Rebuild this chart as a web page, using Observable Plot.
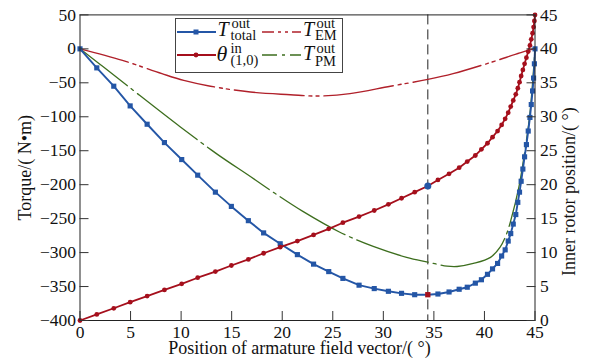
<!DOCTYPE html>
<html><head><meta charset="utf-8">
<script src="https://cdn.jsdelivr.net/npm/d3@7"></script>
<script src="https://cdn.jsdelivr.net/npm/@observablehq/plot@0.6"></script>
<style>
body{margin:0;background:#fff;}
#wrap{position:relative;width:590px;height:363px;font-family:"Liberation Serif","Times New Roman",serif;color:#111;}
#wrap > svg{position:absolute;left:0;top:0;}
#legend{position:absolute;left:175px;top:18px;width:166px;height:53px;border:1.5px solid #444;background:#fff;}
#legend span{position:absolute;white-space:nowrap;line-height:0.7;}
#legend .big{font-size:20px;font-style:italic;}
#legend .theta{font-size:22px;font-style:italic;}
#legend .small{font-size:14.5px;}
#legend svg{position:absolute;overflow:visible;}
</style></head><body>
<div id="wrap">
  <div id="legend">
    <svg style="left:0;top:6.5px" width="41" height="12"><line x1="1" y1="6" x2="40" y2="6" stroke="#2456a6" stroke-width="1.8"/><rect x="17.5" y="3.5" width="5" height="5" fill="#2456a6"/></svg>
    <span class="big" style="left:41.5px;top:2.95px">T</span>
    <span class="small" style="left:55.5px;top:-1.2px">out</span>
    <span class="small" style="left:54.5px;top:10.5px">total</span>

    <svg style="left:85px;top:6.5px" width="41" height="12"><line x1="1" y1="6" x2="40" y2="6" stroke="#b0202a" stroke-width="1.4" stroke-dasharray="12,4,3,4,3,4"/></svg>
    <span class="big" style="left:127px;top:2.95px">T</span>
    <span class="small" style="left:140.5px;top:-1.2px">out</span>
    <span class="small" style="left:139px;top:10.5px">EM</span>

    <svg style="left:0;top:30px" width="41" height="12"><line x1="1" y1="6" x2="40" y2="6" stroke="#a50f1c" stroke-width="1.8"/><circle cx="20" cy="6" r="2.4" fill="#a50f1c"/></svg>
    <span class="theta" style="left:40.5px;top:27.4px">θ</span>
    <span class="small" style="left:54.5px;top:23.8px">in</span>
    <span class="small" style="left:54.5px;top:36px">(1,0)</span>

    <svg style="left:85px;top:30px" width="41" height="12"><line x1="1" y1="6" x2="40" y2="6" stroke="#3d6e1e" stroke-width="1.4" stroke-dasharray="15,5,3,5"/></svg>
    <span class="big" style="left:127px;top:26.85px">T</span>
    <span class="small" style="left:140.5px;top:23.5px">out</span>
    <span class="small" style="left:139px;top:37.2px">PM</span>
  </div>
</div>
<script>
// Armature field vector position (deg) for the sampled points
const xPos = [0,1.66,3.34,4.96,6.64,8.35,10.06,11.64,13.39,14.97,16.65,18.16,19.8,21.5,23.1,24.6,26.0,27.6,29.1,30.5,31.8,33.1,34.4,35.4,36.5,37.5,38.3,39.1,39.7,40.3,40.8,41.3,41.7,42.05,42.35,42.6,42.85,43.1,43.3,43.47,43.63,43.8,43.97,44.15,44.33,44.5,44.63,44.76,44.86,44.94,45];
// Total output torque (N·m)
const totalTorque = [0,-28,-55,-84,-111,-138,-163,-186,-211,-232,-253,-271,-287,-303,-317,-328,-338,-348,-353,-357,-360,-362,-362,-361,-358,-354,-351,-345,-340,-332,-324,-316,-305,-296,-283,-272,-258,-244,-226,-211,-195,-177,-159,-141,-121,-101,-82,-62,-43,-22,0];
// Inner rotor position (deg)
const innerRotor = [0,0.9,1.8,2.7,3.6,4.5,5.4,6.3,7.2,8.1,9,9.9,10.8,11.7,12.6,13.5,14.4,15.3,16.2,17.1,18,18.9,19.8,20.7,21.6,22.5,23.4,24.3,25.2,26.1,27,27.9,28.8,29.7,30.6,31.5,32.4,33.3,34.2,35.1,36,36.9,37.8,38.7,39.6,40.5,41.4,42.3,43.2,44.1,45];
// EM output torque
const emX = [0,4.2,8.1,10.26,12.9,16.85,20.8,23.4,26.7,30.7,34.4,36.9,40.2,43.5,44.5,45];
const emTorque = [0,-17,-36.5,-46.4,-55,-63.6,-67.5,-69.5,-66,-55,-45,-36.5,-22,-6,-1.5,0];
// PM output torque
const pmX = [0,2,4.66,9.93,13.56,16.85,19.2,22,25.7,29,32.3,34.4,36.3,37.3,38.9,40.6,41.55,42.2,42.6,43.4,44,44.5,45];
const pmTorque = [0,-23,-54,-115,-155,-188,-212,-239,-270,-291,-307,-314,-320,-320.5,-316,-307,-292,-272,-253,-204,-150,-95,0];
// Operating point marker
const markX = 34.4;
// Ticks
const xTicks = [0,5,10,15,20,25,30,35,40,45];
const yTicks = [-400,-350,-300,-250,-200,-150,-100,-50,0,50];
const rotorTicks = [0,5,10,15,20,25,30,35,40,45];

const main = xPos.map((x, i) => ({x, total: totalTorque[i], theta: innerRotor[i]}));
const em = emX.map((x, i) => ({x, y: emTorque[i]}));
const pm = pmX.map((x, i) => ({x, y: pmTorque[i]}));
const rest = main.filter(d => d.x !== markX);
const special = main.filter(d => d.x === markX);
// right axis (inner rotor position) shares the plot: 0°→-400, 45°→50
const rotorY = t => -400 + t * 10;

const BLUE = "#2456a6", RED = "#a50f1c", EMRED = "#b0202a", GREEN = "#3d6e1e";
const FS = 17.5;

const chart = Plot.plot({
  width: 590, height: 363,
  marginLeft: 79.5, marginRight: 55.5, marginTop: 14.4, marginBottom: 43,
  x: {domain: [0, 45]},
  y: {domain: [-400, 50]},
  style: {fontFamily: "'Liberation Serif', 'Times New Roman', serif", fontSize: FS + "px", color: "#111", background: "transparent"},
  marks: [
    Plot.ruleX([markX], {stroke: "#222", strokeWidth: 1, strokeDasharray: "10,5"}),
    Plot.line(pm, {x: "x", y: "y", stroke: GREEN, strokeWidth: 1.3, strokeDasharray: "75,5,3,5", strokeDashoffset: 15, curve: "catmull-rom"}),
    Plot.line(em, {x: "x", y: "y", stroke: EMRED, strokeWidth: 1.4, strokeDasharray: "70,5,3,4,3,5", strokeDashoffset: 20, curve: "catmull-rom"}),
    Plot.line(main, {x: "x", y: "total", stroke: BLUE, strokeWidth: 1.9}),
    Plot.dot(rest, {x: "x", y: "total", symbol: "square", r: 2.9, fill: BLUE, stroke: "none"}),
    Plot.line(main, {x: "x", y: d => rotorY(d.theta), stroke: RED, strokeWidth: 1.8}),
    Plot.dot(rest, {x: "x", y: d => rotorY(d.theta), r: 2.4, fill: RED, stroke: "none"}),
    Plot.dot(special, {x: "x", y: "total", symbol: "square", r: 3.0, fill: RED, stroke: "none"}),
    Plot.dot(special, {x: "x", y: d => rotorY(d.theta), r: 3.5, fill: BLUE, stroke: "none"}),
    Plot.frame({stroke: "#222", strokeWidth: 1}),
    // bottom axis
    Plot.axisX(xTicks, {anchor: "bottom", tickSize: 0, tickPadding: 5, label: null, fontSize: FS}),
    Plot.axisX(xTicks, {anchor: "bottom", tickSize: 9, dy: -9, tickFormat: () => "", label: null, stroke: "#333"}),
    // left axis
    Plot.axisY(yTicks, {anchor: "left", tickSize: 0, tickPadding: 4, label: null, fontSize: FS}),
    Plot.axisY(yTicks, {anchor: "left", tickSize: 9, dx: 9, tickFormat: () => "", label: null, stroke: "#333"}),
    // right axis (inner rotor position)
    Plot.axisY(rotorTicks.map(rotorY), {anchor: "right", tickSize: 0, tickPadding: 5, label: null, fontSize: FS, tickFormat: d => String((d + 400) / 10)}),
    Plot.axisY(rotorTicks.map(rotorY), {anchor: "right", tickSize: 9, dx: -9, tickFormat: () => "", label: null, stroke: "#333"}),
    // axis titles
    Plot.text(["Torque/( N•m)"], {frameAnchor: "left", textAnchor: "middle", dx: -55, rotate: -90, fontSize: FS + 0.5, fill: "#111"}),
    Plot.text(["Inner rotor position/( °)"], {frameAnchor: "right", textAnchor: "middle", dx: 34, dy: 24, rotate: -90, fontSize: FS + 0.5, fill: "#111"}),
    Plot.text(["Position of armature field vector/( °)"], {frameAnchor: "bottom", textAnchor: "middle", dx: -8, dy: 33, fontSize: FS + 0.5, fill: "#111"})
  ]
});
document.getElementById("wrap").prepend(chart);
</script>
</body></html>
